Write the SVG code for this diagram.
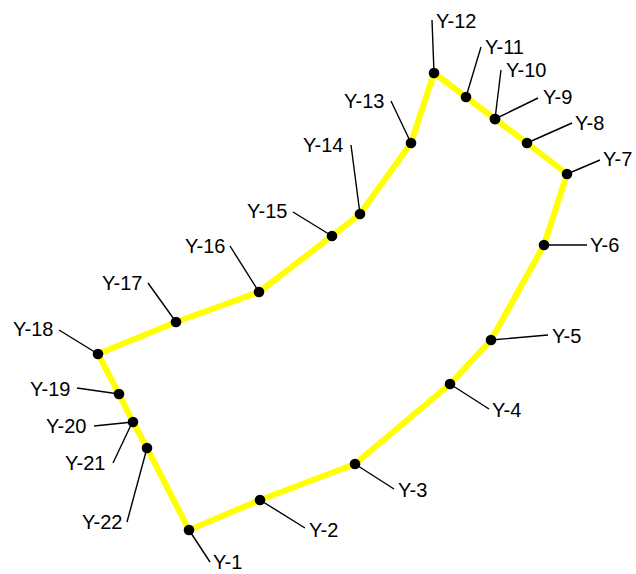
<svg xmlns="http://www.w3.org/2000/svg" width="636" height="574" viewBox="0 0 636 574">
<style>
.route{fill:none;stroke:#ffff00;stroke-width:6;stroke-linejoin:miter}
.lead{stroke:#000;stroke-width:1.4;fill:none}
.dot{fill:#000}
text{font-family:"Liberation Sans",Arial,sans-serif;font-size:20px;fill:#000}
</style>
<rect width="636" height="574" fill="#fff"/>
<g id="connectors">
<polygon class="route" points="189,530 260,500 355,464 450,384 491,340 544,245 567,174 527,143 495,119 466,97 434,73 411,143 360,214 332,236 259,292 176,322 98,354 119,394 133,422 147,448"/>
<line class="lead" x1="189" y1="530" x2="210" y2="562"/>
<line class="lead" x1="260" y1="500" x2="305" y2="528"/>
<line class="lead" x1="355" y1="464" x2="394" y2="489"/>
<line class="lead" x1="450" y1="384" x2="489" y2="409"/>
<line class="lead" x1="491" y1="340" x2="548" y2="335"/>
<line class="lead" x1="544" y1="245" x2="587" y2="245"/>
<line class="lead" x1="567" y1="174" x2="600" y2="160"/>
<line class="lead" x1="527" y1="143" x2="572" y2="123"/>
<line class="lead" x1="495" y1="119" x2="538" y2="98"/>
<line class="lead" x1="495" y1="119" x2="501" y2="70"/>
<line class="lead" x1="466" y1="97" x2="481" y2="47"/>
<line class="lead" x1="434" y1="73" x2="432" y2="20"/>
<line class="lead" x1="411" y1="143" x2="391" y2="101"/>
<line class="lead" x1="360" y1="214" x2="351" y2="145"/>
<line class="lead" x1="332" y1="236" x2="293" y2="212"/>
<line class="lead" x1="259" y1="292" x2="230" y2="246"/>
<line class="lead" x1="176" y1="322" x2="148" y2="283"/>
<line class="lead" x1="98" y1="354" x2="59" y2="330"/>
<line class="lead" x1="119" y1="394" x2="77" y2="388"/>
<line class="lead" x1="133" y1="422" x2="94" y2="426"/>
<line class="lead" x1="131" y1="425" x2="113" y2="463"/>
<line class="lead" x1="147" y1="448" x2="127" y2="522"/>
</g>
<g id="Y-1"><circle class="dot" cx="189" cy="530" r="5.3"/><text x="213" y="569">Y-1</text></g>
<g id="Y-2"><circle class="dot" cx="260" cy="500" r="5.3"/><text x="309" y="537">Y-2</text></g>
<g id="Y-3"><circle class="dot" cx="355" cy="464" r="5.3"/><text x="398" y="497">Y-3</text></g>
<g id="Y-4"><circle class="dot" cx="450" cy="384" r="5.3"/><text x="492" y="417">Y-4</text></g>
<g id="Y-5"><circle class="dot" cx="491" cy="340" r="5.3"/><text x="552" y="343">Y-5</text></g>
<g id="Y-6"><circle class="dot" cx="544" cy="245" r="5.3"/><text x="590" y="252">Y-6</text></g>
<g id="Y-7"><circle class="dot" cx="567" cy="174" r="5.3"/><text x="603" y="166">Y-7</text></g>
<g id="Y-8"><circle class="dot" cx="527" cy="143" r="5.3"/><text x="575" y="130">Y-8</text></g>
<g id="Y-9"><circle class="dot" cx="495" cy="119" r="5.3"/><text x="543" y="104">Y-9</text></g>
<g id="Y-10"><circle class="dot" cx="495" cy="119" r="5.3"/><text x="506" y="77">Y-10</text></g>
<g id="Y-11"><circle class="dot" cx="466" cy="97" r="5.3"/><text x="485" y="54">Y-11</text></g>
<g id="Y-12"><circle class="dot" cx="434" cy="73" r="5.3"/><text x="436" y="28">Y-12</text></g>
<g id="Y-13"><circle class="dot" cx="411" cy="143" r="5.3"/><text x="344" y="108">Y-13</text></g>
<g id="Y-14"><circle class="dot" cx="360" cy="214" r="5.3"/><text x="303" y="152">Y-14</text></g>
<g id="Y-15"><circle class="dot" cx="332" cy="236" r="5.3"/><text x="247" y="218">Y-15</text></g>
<g id="Y-16"><circle class="dot" cx="259" cy="292" r="5.3"/><text x="185" y="253">Y-16</text></g>
<g id="Y-17"><circle class="dot" cx="176" cy="322" r="5.3"/><text x="102" y="290">Y-17</text></g>
<g id="Y-18"><circle class="dot" cx="98" cy="354" r="5.3"/><text x="13" y="336">Y-18</text></g>
<g id="Y-19"><circle class="dot" cx="119" cy="394" r="5.3"/><text x="30" y="396">Y-19</text></g>
<g id="Y-20"><circle class="dot" cx="133" cy="422" r="5.3"/><text x="46" y="433">Y-20</text></g>
<g id="Y-21"><text x="65" y="470">Y-21</text></g>
<g id="Y-22"><circle class="dot" cx="147" cy="448" r="5.3"/><text x="82" y="529">Y-22</text></g>
</svg>
